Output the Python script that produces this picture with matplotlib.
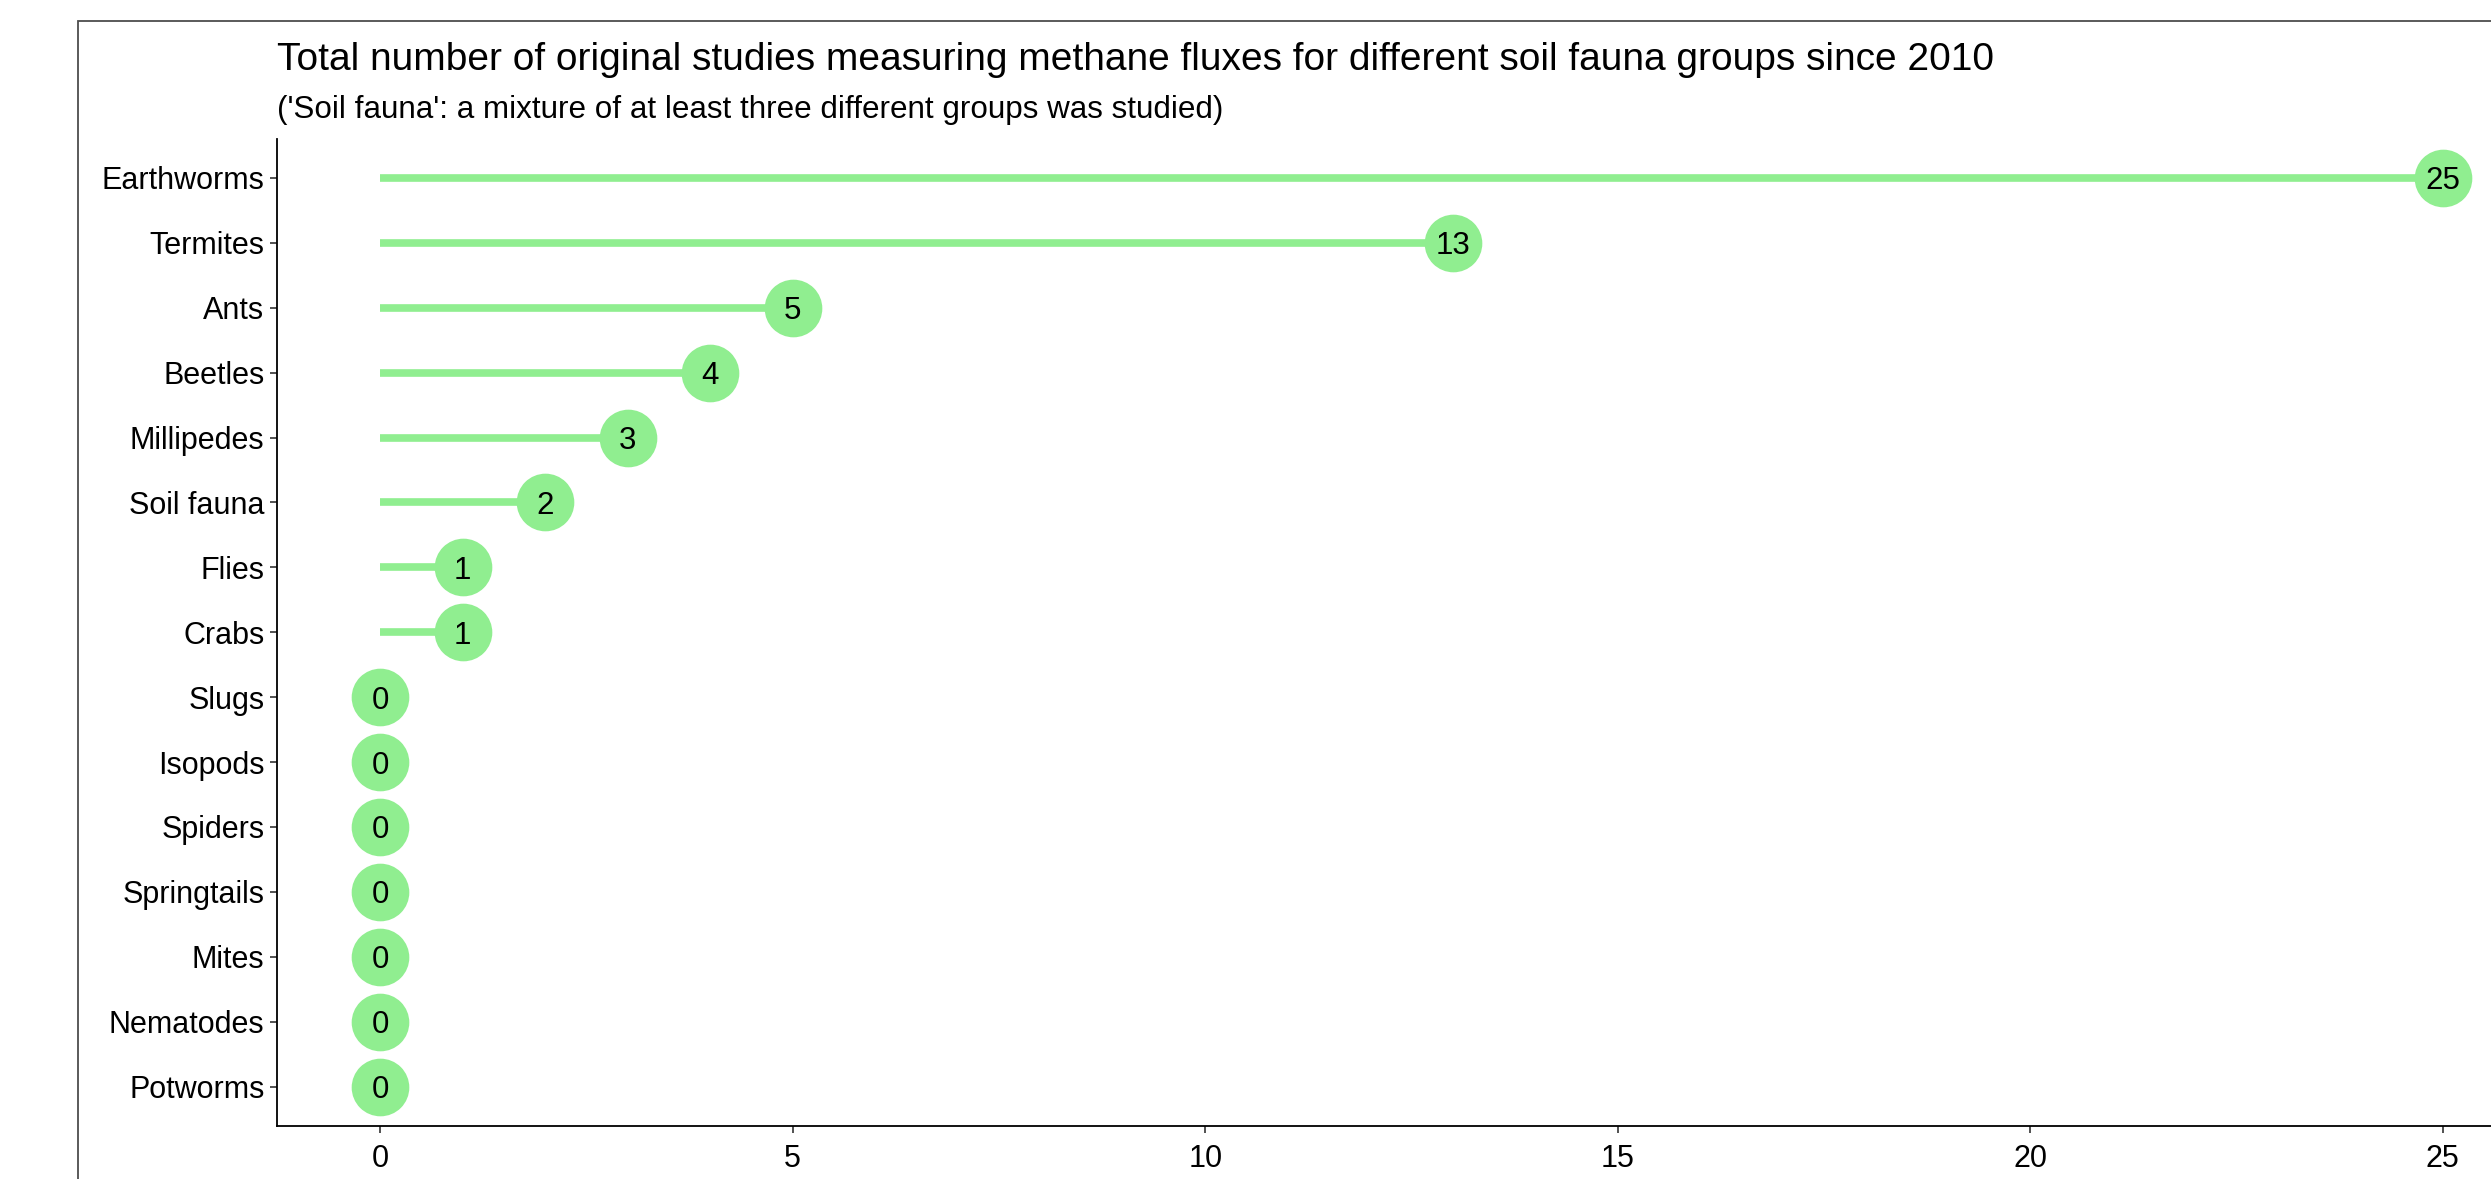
import matplotlib
matplotlib.use("Agg")
import matplotlib.pyplot as plt
from matplotlib.patches import Rectangle

categories = ["Earthworms", "Termites", "Ants", "Beetles", "Millipedes", "Soil fauna",
              "Flies", "Crabs", "Slugs", "Isopods", "Spiders", "Springtails",
              "Mites", "Nematodes", "Potworms"]
counts = [25, 13, 5, 4, 3, 2, 1, 1, 0, 0, 0, 0, 0, 0, 0]
xticks = [0, 5, 10, 15, 20, 25]

title = "Total number of original studies measuring methane fluxes for different soil fauna groups since 2010"
subtitle = "('Soil fauna': a mixture of at least three different groups was studied)"

plt.rcParams['font.family'] = ['Liberation Sans', 'DejaVu Sans']

W, H = 2491, 1179
dpi = 100
fig = plt.figure(figsize=(W / dpi, H / dpi), dpi=dpi)
fig.patch.set_facecolor("white")

# frame around the plot (cropped at right/bottom)
fig.patches.append(Rectangle((77.5 / W, -0.1), 1.2, 1 - 21 / H + 0.1, transform=fig.transFigure,
                             fill=False, edgecolor="#4d4d4d", linewidth=1.3))

left = 277 / W
right = 2546 / W
bottom = 1 - 1125.5 / H
top = 1 - 139 / H
ax = fig.add_axes([left, bottom, right - left, top - bottom])

green = "#90EE90"
n = len(categories)
ypos = list(range(n - 1, -1, -1))

for y, c in zip(ypos, counts):
    if c > 0:
        ax.plot([0, c], [y, y], color=green, linewidth=5.5, solid_capstyle="butt", zorder=2)
ax.plot(counts, ypos, linestyle="none", marker="o", markersize=41.5, color=green,
        markeredgewidth=0, zorder=3)
for y, c in zip(ypos, counts):
    ax.text(c, y, str(c), ha="center", va="center_baseline", fontsize=22.5, color="black", zorder=4)

ax.set_xlim(-1.25, 26.25)
ax.set_ylim(-0.6, n - 1 + 0.6)
ax.set_yticks(ypos)
ax.set_yticklabels(categories)
ax.set_xticks(xticks)
ax.set_xticklabels([str(v) for v in xticks])

for s in ["top", "right"]:
    ax.spines[s].set_visible(False)
for s in ["left", "bottom"]:
    ax.spines[s].set_linewidth(1.3)
    ax.spines[s].set_color("black")
ax.tick_params(axis="both", length=5, width=1.2, color="#333333", labelsize=22,
               labelcolor="black")
ax.tick_params(axis="x", pad=8)
ax.tick_params(axis="y", pad=4)

fig.text(left, 1 - 70 / H, title, fontsize=28, va="baseline", ha="left", color="black")
fig.text(left, 1 - 118 / H, subtitle, fontsize=22.6, va="baseline", ha="left", color="black")

fig.savefig("out.png", dpi=dpi, facecolor="white")
